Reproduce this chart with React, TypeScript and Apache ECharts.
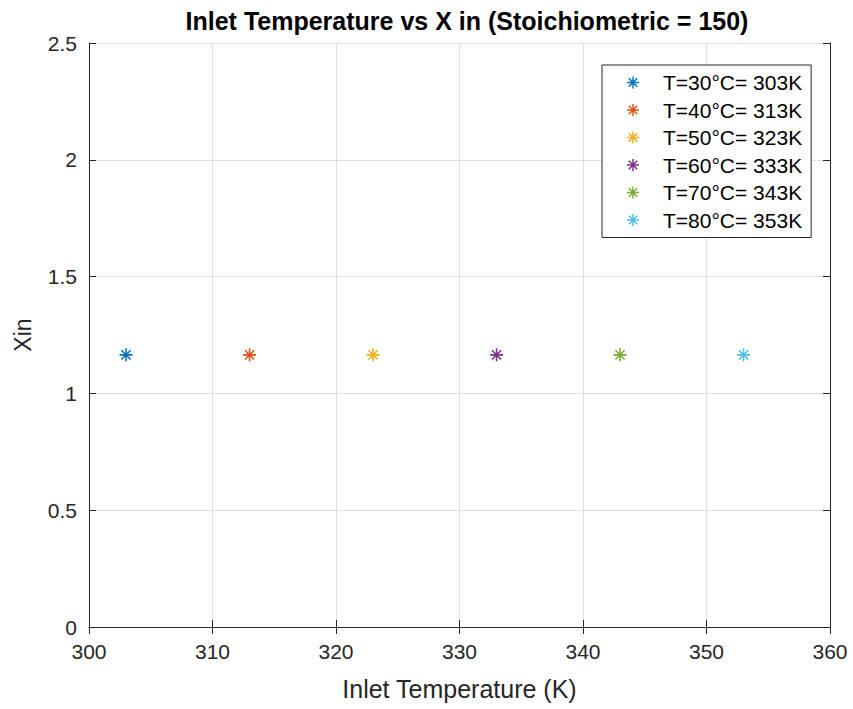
import React, { useEffect, useRef } from "react";
import * as echarts from "echarts";

const titleText = "Inlet Temperature vs X in (Stoichiometric = 150)";
const xAxisName = "Inlet Temperature (K)";
const yAxisName = "Xin";
const temperaturesK = [303, 313, 323, 333, 343, 353];
const xinValues = [1.165, 1.165, 1.165, 1.165, 1.165, 1.165];
const seriesNames = [
  "T=30°C= 303K",
  "T=40°C= 313K",
  "T=50°C= 323K",
  "T=60°C= 333K",
  "T=70°C= 343K",
  "T=80°C= 353K",
];
const seriesColors = ["#0072BD", "#D95319", "#EDB120", "#7E2F8E", "#77AC30", "#4DBEEE"];

const xMin = 300;
const xMax = 360;
const xStep = 10;
const yMin = 0;
const yMax = 2.5;
const yStep = 0.5;

const FONT = "'Liberation Sans', Arial, Helvetica, sans-serif";
const TEXT = "#262626";

// asterisk marker made of four thin filled bars
const ASTERISK =
  "path://M-1,-0.12L1,-0.12L1,0.12L-1,0.12Z" +
  "M-0.12,-1L0.12,-1L0.12,1L-0.12,1Z" +
  "M-0.622,-0.792L0.792,0.622L0.622,0.792L-0.792,-0.622Z" +
  "M-0.792,0.622L0.622,-0.792L0.792,-0.622L-0.622,0.792Z";

export default function App() {
  const ref = useRef<HTMLDivElement>(null);

  useEffect(() => {
    if (!ref.current) return;
    const chart = echarts.init(ref.current, null, { renderer: "svg" });

    const axisLine = { show: true, lineStyle: { color: TEXT, width: 1 } };
    const axisTick = { show: true, inside: true, length: 7, lineStyle: { color: TEXT, width: 1 } };

    chart.setOption({
      animation: false,
      backgroundColor: "#ffffff",
      title: {
        text: titleText,
        left: 462,
        top: 3,
        textAlign: "center",
        textStyle: { fontFamily: FONT, fontSize: 25, fontWeight: "bold", color: "#000000" },
      },
      grid: { left: 89, right: 23, top: 43, bottom: 82, containLabel: false },
      legend: {
        orient: "vertical",
        left: 602,
        top: 65,
        padding: [7, 9, 7, 25],
        itemWidth: 12,
        itemHeight: 12,
        itemGap: 6.5,
        backgroundColor: "#ffffff",
        borderColor: TEXT,
        borderWidth: 1,
        borderRadius: 0,
        textStyle: {
          fontFamily: FONT,
          fontSize: 21,
          color: "#000000",
          lineHeight: 20,
          padding: [0, 0, 0, 19],
        },
        data: seriesNames,
      },
      xAxis: [
        {
          type: "value",
          min: xMin,
          max: xMax,
          interval: xStep,
          name: xAxisName,
          nameLocation: "middle",
          nameGap: 49,
          nameTextStyle: { fontFamily: FONT, fontSize: 25, color: TEXT },
          axisLine,
          axisTick,
          axisLabel: { fontFamily: FONT, fontSize: 21, color: TEXT, margin: 14 },
          splitLine: { show: true, lineStyle: { color: "#dfdfdf", width: 1 } },
        },
        {
          type: "value",
          position: "top",
          min: xMin,
          max: xMax,
          interval: xStep,
          axisLine,
          axisTick,
          axisLabel: { show: false },
          splitLine: { show: false },
        },
      ],
      yAxis: [
        {
          type: "value",
          min: yMin,
          max: yMax,
          interval: yStep,
          name: yAxisName,
          nameLocation: "middle",
          nameGap: 55,
          nameTextStyle: { fontFamily: FONT, fontSize: 23, color: TEXT },
          axisLine,
          axisTick,
          axisLabel: { fontFamily: FONT, fontSize: 21, color: TEXT, margin: 12 },
          splitLine: { show: true, lineStyle: { color: "#dfdfdf", width: 1 } },
        },
        {
          type: "value",
          position: "right",
          min: yMin,
          max: yMax,
          interval: yStep,
          axisLine,
          axisTick,
          axisLabel: { show: false },
          splitLine: { show: false },
        },
      ],
      series: temperaturesK.map((t, i) => ({
        type: "scatter",
        name: seriesNames[i],
        xAxisIndex: 0,
        yAxisIndex: 0,
        symbol: ASTERISK,
        symbolSize: 13,
        symbolKeepAspect: true,
        itemStyle: { color: seriesColors[i], opacity: 1 },
        data: [[t, xinValues[i]]],
      })),
    });

    return () => chart.dispose();
  }, []);

  return (
    <div
      ref={ref}
      style={{ position: "absolute", left: 0, top: 0, width: 853, height: 709 }}
    />
  );
}
